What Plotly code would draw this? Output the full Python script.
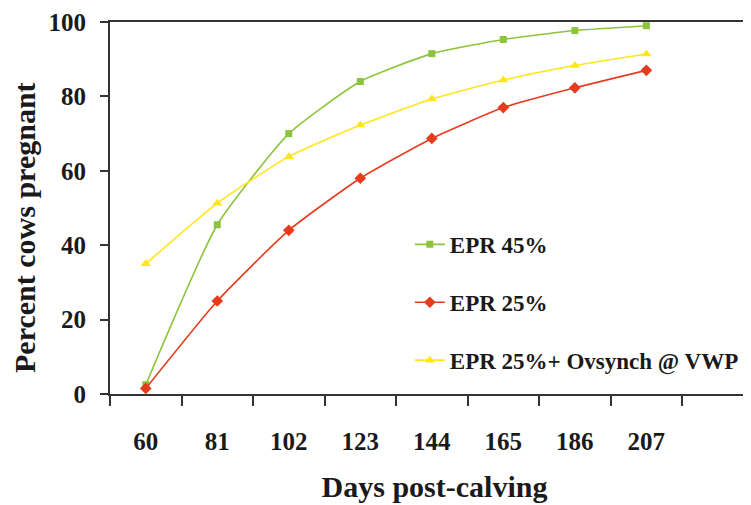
import plotly.graph_objects as go

days = ["60", "81", "102", "123", "144", "165", "186", "207"]
epr45 = [2.5, 45.5, 70, 84, 91.5, 95.3, 97.7, 99]
epr25 = [1.5, 25, 44, 58, 68.7, 77, 82.3, 87]
epr25_ovs = [35, 51.3, 63.8, 72.3, 79.3, 84.4, 88.3, 91.4]
y_ticks = [0, 20, 40, 60, 80, 100]

FONT = "Liberation Serif"
TXT = "#1a1a1a"

fig = go.Figure()
series = [
    ("EPR 45%", epr45, "#8CC43C", "square", 7),
    ("EPR 25%", epr25, "#E63C1E", "diamond", 9),
    ("EPR 25%+ Ovsynch @ VWP", epr25_ovs, "#FFE619", "triangle-up", 9),
]
for i, (name, vals, col, sym, sz) in enumerate(series):
    fig.add_trace(go.Scatter(
        x=days, y=vals, name=name, mode="lines+markers",
        line=dict(color=col, width=1.6, shape="spline", smoothing=0.5),
        marker=dict(color=col, symbol=sym, size=sz),
        legendgroup=f"g{i}", cliponaxis=False,
    ))

fig.update_layout(
    width=751, height=505,
    margin=dict(l=102, r=0, t=14, b=119, autoexpand=False),
    paper_bgcolor="white", plot_bgcolor="white",
    font=dict(family=FONT, color=TXT, weight="bold"),
    showlegend=True,
    legend=dict(
        x=0.462, y=0.46, xanchor="left", yanchor="top",
        font=dict(family=FONT, size=23, color=TXT, weight="bold"),
        tracegroupgap=25, bgcolor="rgba(0,0,0,0)", itemwidth=30,
    ),
    annotations=[dict(
        text="Percent cows pregnant", textangle=-90,
        xref="paper", yref="paper", x=-0.131, y=0.449,
        xanchor="center", yanchor="middle", showarrow=False,
        font=dict(family=FONT, size=30, color=TXT, weight="bold"),
    )],
)
fig.update_xaxes(
    type="category", range=[-0.5, 8.575], automargin=False,
    tickson="boundaries", ticks="outside", ticklen=10, tickwidth=2, tickcolor="#333",
    showline=True, linecolor="#333", linewidth=2, mirror=True,
    showgrid=False, zeroline=False,
    tickfont=dict(family=FONT, size=25, color=TXT, weight="bold"),
    title=dict(text="Days post-calving", font=dict(family=FONT, size=30, color=TXT, weight="bold"), standoff=22),
    ticklabelstandoff=24,
)
fig.update_yaxes(
    range=[0, 100], tickvals=y_ticks, automargin=False,
    ticks="outside", ticklen=8, tickwidth=2, tickcolor="#333",
    showline=True, linecolor="#333", linewidth=2,
    showgrid=False, zeroline=False,
    tickfont=dict(family=FONT, size=25, color=TXT, weight="bold"),
    ticklabelstandoff=9,
)

fig.write_html("out.html")
